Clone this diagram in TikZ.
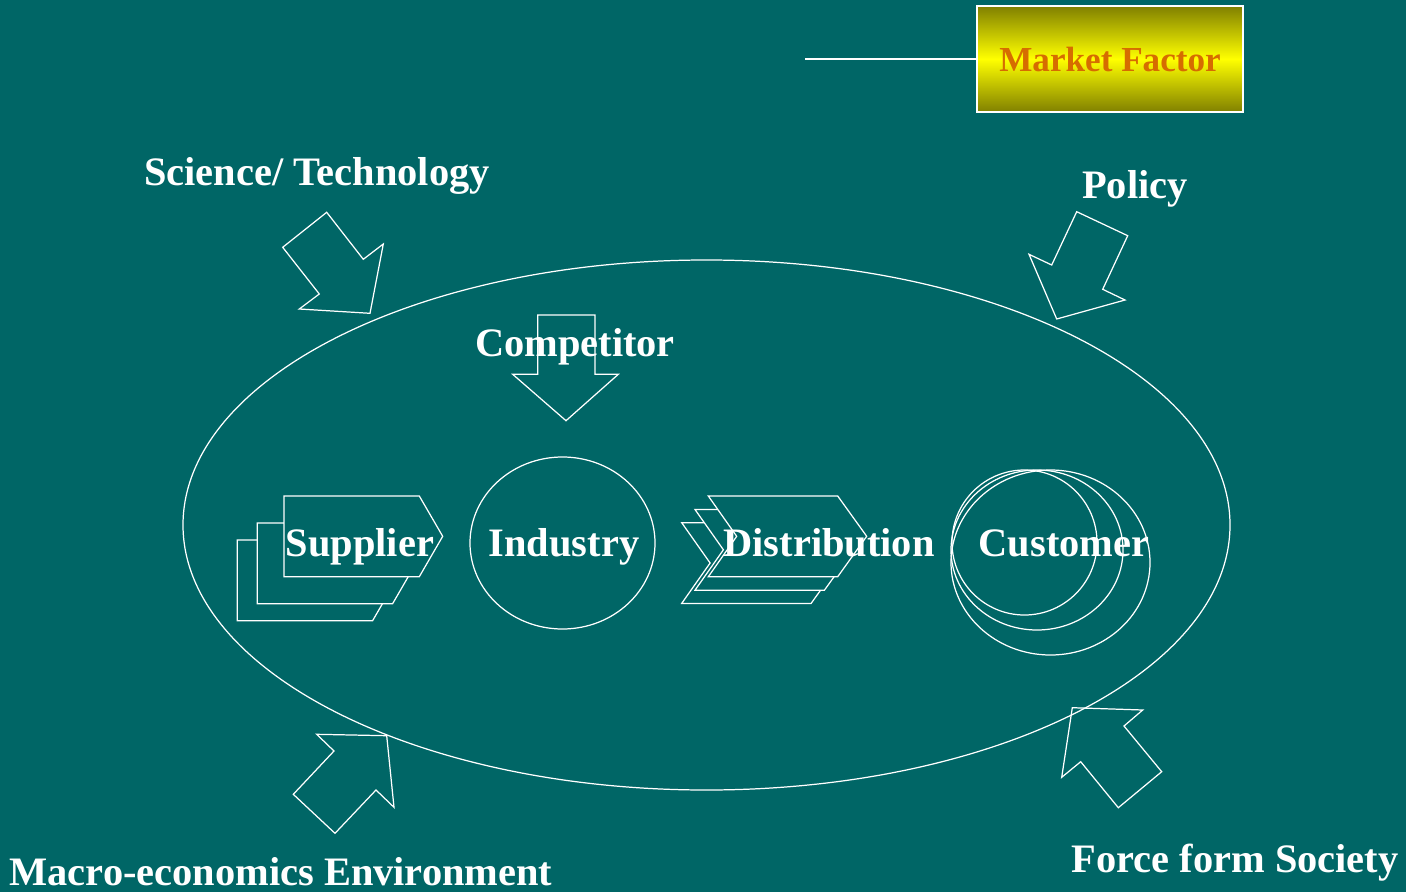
\documentclass[tikz,border=0pt]{standalone}
\usepackage{fontspec}
\setmainfont{Liberation Serif}
\usetikzlibrary{positioning}
\definecolor{bgteal}{RGB}{0,102,102}
\definecolor{mfolive}{RGB}{128,128,0}
\definecolor{mforange}{RGB}{214,108,0}

\tikzset{
  lbl/.style={text=white, font=\fontsize{23}{27}\selectfont\bfseries, inner sep=0pt, anchor=base},
  outl/.style={draw=white, line width=0.7pt},
  stack/.style={draw=white, line width=0.7pt, fill=bgteal},
  mfbox/.style={draw=white, line width=1.2pt, top color=mfolive, bottom color=mfolive, middle color=yellow,
    minimum width=5.32cm, minimum height=2.12cm, inner sep=0pt, text=mforange,
    font=\fontsize{20}{24}\selectfont\bfseries}
}

\begin{document}
\begin{tikzpicture}[x=0.02cm, y=-0.02cm]
\fill[bgteal] (0,0) rectangle (1406,892);
\useasboundingbox (0,0) rectangle (1406,892);

% market factor
\node[mfbox] (market) at (1110,59) {Market Factor};
\coordinate (mfend) at (805,59);
\draw[outl, line width=1pt] (mfend) -- (market.west);

% environment
\draw[outl] (706.5,525) ellipse [x radius=523.5, y radius=265];

% outside arrows
\draw[outl] (326.7,212.3) -- (363.3,259.3) -- (383.3,244) -- (370,313.3) -- (299.3,309) -- (319.3,294) -- (282.7,247.3) -- cycle;
\draw[outl] (1076.7,211.7) -- (1127.7,235.7) -- (1102.7,289.3) -- (1125,300) -- (1056.7,319) -- (1029,254.3) -- (1051.7,265) -- cycle;
\draw[outl] (316.7,734.3) -- (386.7,735.7) -- (394,807.3) -- (376,790) -- (335,833.3) -- (293.3,794.3) -- (334,751) -- cycle;
\draw[outl] (1072.3,707.7) -- (1142.7,710) -- (1124,726) -- (1161.7,771.7) -- (1118.3,807.7) -- (1080.7,761.7) -- (1061.7,777.3) -- cycle;
\draw[outl] (537.7,315) -- (595,315) -- (595,374.3) -- (618.3,374.3) -- (566,420.7) -- (512.7,374.3) -- (537.7,374.3) -- cycle;

% supplier stack
\foreach \dx/\dy in {-46.7/44, -26.7/27, 0/0}
  \draw[stack, shift={(\dx,\dy)}] (284,496) -- (419.3,496) -- (442.7,536.3) -- (419.3,576.7) -- (284,576.7) -- cycle;

% industry
\draw[outl] (562.5,543) ellipse [x radius=92.5, y radius=86];

% distribution chevrons
\foreach \dx/\dy in {-26.6/26.7, -13.3/13.5, 0/0}
  \draw[stack, shift={(\dx,\dy)}] (708.3,496) -- (837.7,496) -- (866.7,536.3) -- (837.7,576.7) -- (708.3,576.7) -- (736.7,536.3) -- cycle;

% customer
\draw[outl] (1050.5,562.5) ellipse [x radius=99.5, y radius=92.5];
\draw[outl] (1037,550) ellipse [x radius=86, y radius=80];
\draw[outl] (1024.5,542.5) ellipse [x radius=72.5, y radius=72.5];

% labels
\node[lbl] (sci) at (317,185) {Science/ Technology};
\node[lbl] (pol) at (1135,198.3) {Policy};
\node[lbl] (comp) at (575,356.7) {Competitor};
\node[lbl] (sup) at (360,556) {Supplier};
\node[lbl] (ind) at (564,556) {Industry};
\node[lbl] (dist) at (829,556) {Distribution};
\node[lbl] (cust) at (1064,556.5) {Customer};
\node[lbl] (macro) at (281,885) {Macro-economics Environment};
\node[lbl] (soc) at (1235,872) {Force form Society};
\end{tikzpicture}
\end{document}
